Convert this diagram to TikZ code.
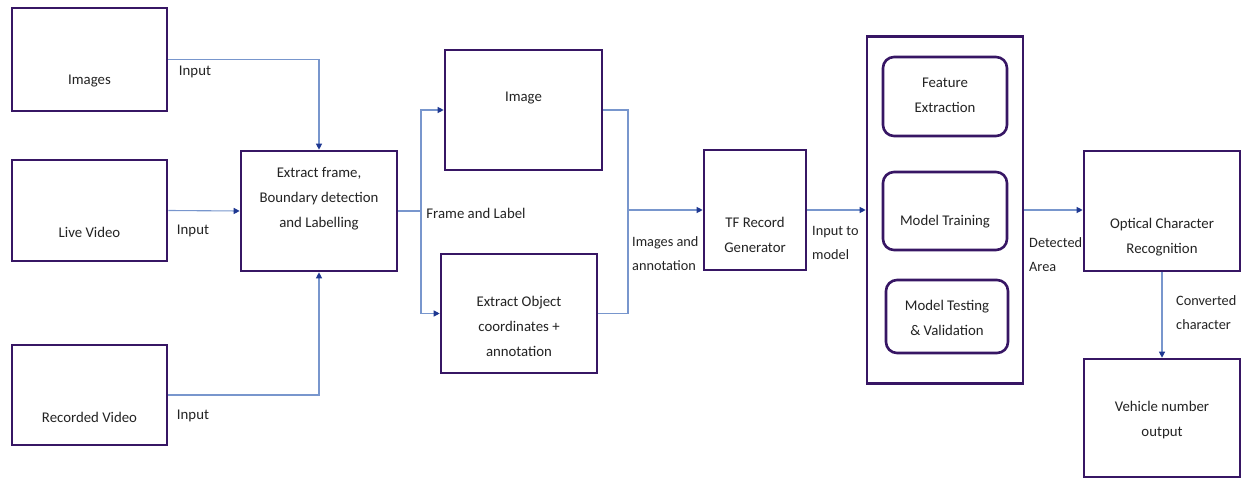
\documentclass[tikz,border=0pt]{standalone}
\usepackage{fontspec}
\setmainfont{Carlito}
\usetikzlibrary{arrows.meta, positioning, calc}
\definecolor{boxpurple}{RGB}{55,22,100}
\definecolor{linkblue}{RGB}{120,150,205}
\definecolor{tipblue}{RGB}{30,55,145}
\definecolor{txtgray}{RGB}{35,35,35}

\tikzset{
    pbox/.style={draw=boxpurple, line width=2.6pt, fill=white, inner sep=0pt},
    rbox/.style={pbox, rounded corners=11pt},
    txt/.style={text=txtgray, align=center, font=\fontsize{14.8}{25}\selectfont},
    note/.style={text=txtgray, align=left, anchor=west, inner sep=0pt, font=\fontsize{14.3}{24}\selectfont},
    link/.style={draw=linkblue, line width=1.1pt},
    flow/.style={link, -{Triangle[length=6pt,width=6pt,fill=tipblue,color=tipblue]}}
}

\begin{document}
\begin{tikzpicture}[x=1pt, y=-1pt]
    \useasboundingbox (0,0) rectangle (1241,478);

    % Input sources
    \node[pbox, minimum width=155pt, minimum height=103pt] (images) at (89.5,59.5) {};
    \node[txt] (images-t) at ($(images)+(0,22)$) {Images};
    \node[pbox, minimum width=155pt, minimum height=101pt] (live) at (89.5,210.5) {};
    \node[txt] (live-t) at ($(live)+(0,22)$) {Live Video};
    \node[pbox, minimum width=155pt, minimum height=100pt] (recorded) at (89.5,395) {};
    \node[txt] (recorded-t) at ($(recorded)+(0,22)$) {Recorded Video};

    % Frame extraction
    \node[pbox, minimum width=156pt, minimum height=120pt] (extract) at (319,211) {};
    \node[txt] (extract-t) at ($(extract)+(0,-12)$) {Extract frame,\\Boundary detection\\and Labelling};

    \node[pbox, minimum width=157pt, minimum height=120pt] (image) at (523.5,110) {};
    \node[txt] (image-t) at ($(image)+(0,-12)$) {Image};
    \node[pbox, minimum width=156pt, minimum height=119pt] (object) at (519,313.5) {};
    \node[txt] (object-t) at ($(object)+(0,13)$) {Extract Object\\coordinates +\\annotation};

    \node[pbox, minimum width=102pt, minimum height=120pt] (tfrec) at (755,210) {};
    \node[txt] (tfrec-t) at ($(tfrec)+(0,25)$) {TF Record\\Generator};

    % Model block
    \node[pbox, minimum width=156pt, minimum height=347pt] (model) at (945,210) {};
    \node[rbox, minimum width=124pt, minimum height=79pt] (feature) at (945,96.5) {};
    \node[txt] (feature-t) at ($(feature)+(0,-1)$) {Feature\\Extraction};
    \node[rbox, minimum width=124pt, minimum height=78pt] (training) at (945,211) {};
    \node[txt] (training-t) at ($(training)+(0,11)$) {Model Training};
    \node[rbox, minimum width=122pt, minimum height=73pt] (testing) at (947,316.5) {};
    \node[txt] (testing-t) at ($(testing)+(0,1)$) {Model Testing\\\& Validation};

    % Recognition
    \node[pbox, minimum width=156pt, minimum height=120pt] (ocr) at (1162,211) {};
    \node[txt] (ocr-t) at ($(ocr)+(0,26)$) {Optical Character\\Recognition};
    \node[pbox, minimum width=156pt, minimum height=118pt] (vehicle) at (1162,418) {};
    \node[txt] (vehicle-t) at ($(vehicle)+(0,2)$) {Vehicle number\\output};

    % Connectors
    \draw[flow] (images.east) -| (extract.north);
    \draw[flow] (live.east) -- (extract.west);
    \draw[flow] (recorded.east) -| (extract.south);
    \node[txt] (in1) at (195,72) {Input};
    \node[txt] (in2) at (193,231) {Input};
    \node[txt] (in3) at (193,416) {Input};

    \coordinate (split) at (421,211);
    \draw[link] (extract.east) -- (split);
    \draw[flow] (split) |- (image.west);
    \draw[flow] (split) |- (object.west);
    \node[txt] (frame-l) at (476,213) {Frame and Label};

    \coordinate (merge) at (628,210);
    \draw[link] (image.east) -| (merge);
    \draw[link] (object.east) -| (merge);
    \draw[flow] (merge) -- (tfrec.west);
    \node[note] (ann-l) at (632,253.5) {Images and\\annotation};

    \draw[flow] (tfrec.east) -- (model.west);
    \node[note] (input-l) at (812,242.5) {Input to\\model};

    \draw[flow] (model.east) -- (model.east -| ocr.west);
    \node[note] (area-l) at (1029,255) {Detected\\Area};

    \draw[flow] (ocr.south) -- (vehicle.north);
    \node[note] (conv-l) at (1176,313) {Converted\\character};
\end{tikzpicture}
\end{document}
